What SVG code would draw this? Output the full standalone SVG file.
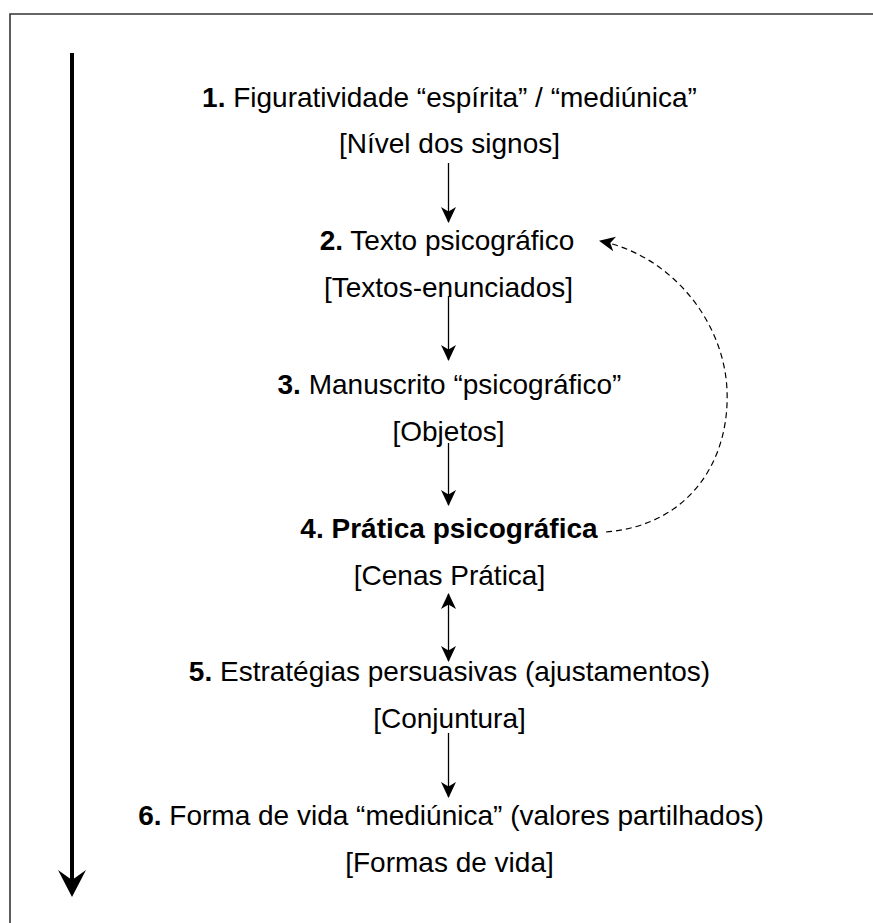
<svg xmlns="http://www.w3.org/2000/svg" width="873" height="923" viewBox="0 0 873 923">
<style>
  text { font-family: "Liberation Sans", Arial, sans-serif; font-size: 28px; fill: #000; text-anchor: middle; }
  .b { font-weight: bold; }
  .conn { stroke: #000; stroke-width: 1.3; fill: none; }
  .dash { stroke: #000; stroke-width: 1.2; fill: none; stroke-dasharray: 6 4; }
</style>
<defs>
  <marker id="ah" markerUnits="userSpaceOnUse" markerWidth="16" markerHeight="15" viewBox="0 0 16 15" refX="15" refY="7.5" orient="auto-start-reverse">
    <path d="M0,0 L16,7.5 L0,15 L4.5,7.5 Z" fill="#000"/>
  </marker>
</defs>
<rect width="873" height="923" fill="#fff"/>
<path d="M10,923 V14 H873" fill="none" stroke="#333" stroke-width="1.6"/>

<g id="timeline">
  <line x1="72" y1="53" x2="72" y2="885" stroke="#000" stroke-width="4"/>
  <path d="M72,897 L58,870 L72,880 L86,870 Z" fill="#000"/>
</g>

<g id="n1">
  <text x="449.5" y="107"><tspan class="b">1.</tspan> Figuratividade “espírita” / “mediúnica”</text>
  <text x="449.5" y="153">[Nível dos signos]</text>
</g>
<g id="n2">
  <text x="447" y="250"><tspan class="b">2.</tspan> Texto psicográfico</text>
  <text x="448.5" y="297">[Textos-enunciados]</text>
</g>
<g id="n3">
  <text x="449.5" y="394"><tspan class="b">3.</tspan> Manuscrito “psicográfico”</text>
  <text x="448.5" y="441">[Objetos]</text>
</g>
<g id="n4">
  <text class="b" x="449" y="538">4. Prática psicográfica</text>
  <text x="449.5" y="585">[Cenas Prática]</text>
</g>
<g id="n5">
  <text x="449.5" y="681"><tspan class="b">5.</tspan> Estratégias persuasivas (ajustamentos)</text>
  <text x="449.5" y="728">[Conjuntura]</text>
</g>
<g id="n6">
  <text x="451" y="825"><tspan class="b">6.</tspan> Forma de vida “mediúnica” (valores partilhados)</text>
  <text x="449.5" y="872">[Formas de vida]</text>
</g>

<g id="connectors">
  <line class="conn" x1="448.5" y1="163" x2="448.5" y2="222" marker-end="url(#ah)"/>
  <line class="conn" x1="448.5" y1="296" x2="448.5" y2="360" marker-end="url(#ah)"/>
  <line class="conn" x1="448.5" y1="443" x2="448.5" y2="505" marker-end="url(#ah)"/>
  <line class="conn" x1="448.5" y1="594" x2="448.5" y2="661" marker-start="url(#ah)" marker-end="url(#ah)"/>
  <line class="conn" x1="448.5" y1="733" x2="448.5" y2="797" marker-end="url(#ah)"/>
  <path class="dash" d="M606,532 C690,525 730,460 727,390 C724,320 670,255 600,241" marker-end="url(#ah)"/>
</g>
</svg>
